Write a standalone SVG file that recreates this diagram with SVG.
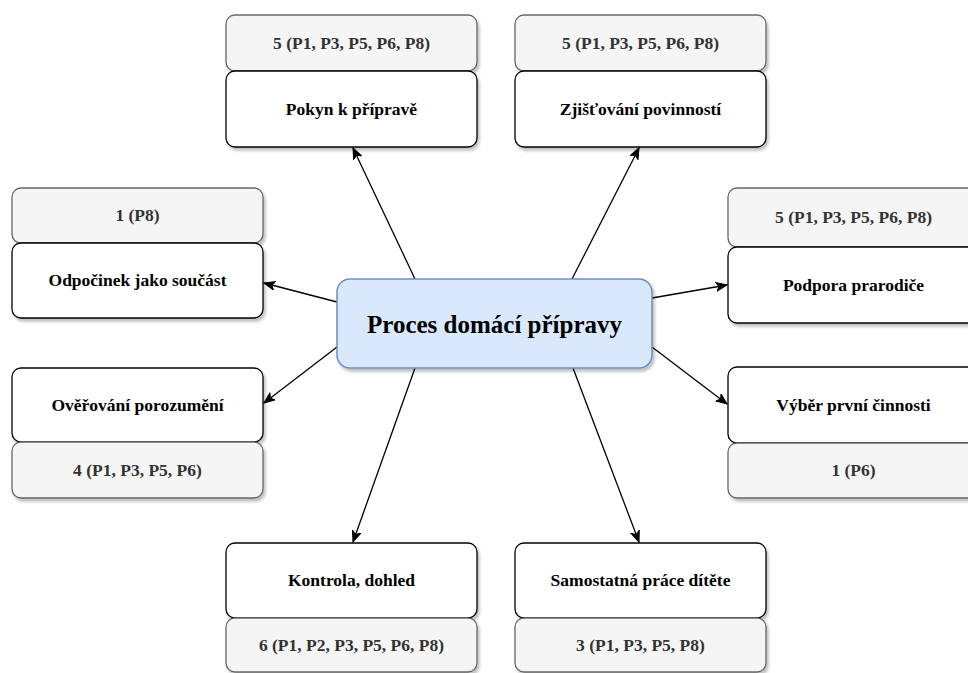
<svg xmlns="http://www.w3.org/2000/svg" width="968" height="673" viewBox="0 0 968 673">
<defs>
<filter id="sh" x="-10%" y="-10%" width="130%" height="140%">
<feDropShadow dx="2" dy="3" stdDeviation="1.5" flood-color="#000" flood-opacity="0.25"/>
</filter>
<marker id="arr" markerUnits="userSpaceOnUse" markerWidth="12" markerHeight="10" viewBox="0 0 12 10" refX="11" refY="5" orient="auto">
<path d="M0,0.5 L11,5 L0,9.5 L3,5 Z" fill="#000" stroke="#000" stroke-width="1"/>
</marker>
</defs>
<style>
.w{fill:#ffffff;stroke:#000000;stroke-width:1.3;filter:url(#sh)}
.g{fill:#f5f5f5;stroke:#666666;stroke-width:1.3;filter:url(#sh)}
.c{fill:#dae8fc;stroke:#6c8ebf;stroke-width:1.5;filter:url(#sh)}
.tw{font-family:"Liberation Serif","Times New Roman",serif;font-weight:bold;font-size:17.5px;fill:#000;text-anchor:middle}
.tg{font-family:"Liberation Serif","Times New Roman",serif;font-weight:bold;font-size:17.5px;fill:#333333;text-anchor:middle}
.tc{font-family:"Liberation Serif","Times New Roman",serif;font-weight:bold;font-size:25px;fill:#000;text-anchor:middle}
.e{fill:none;stroke:#000;stroke-width:1.3;marker-end:url(#arr)}
</style>
<g id="connectors">
<line class="e" x1="415" y1="279" x2="353" y2="148"/>
<line class="e" x1="572" y1="279" x2="639" y2="148"/>
<line class="e" x1="652" y1="298" x2="727" y2="285"/>
<line class="e" x1="652" y1="347" x2="727" y2="404"/>
<line class="e" x1="573" y1="368" x2="639" y2="542"/>
<line class="e" x1="415" y1="368" x2="353" y2="542"/>
<line class="e" x1="337" y1="347" x2="264" y2="403"/>
<line class="e" x1="337" y1="302" x2="264" y2="283"/>
</g>
<g id="n-pokyn">
<rect class="g" x="226" y="15" width="251" height="56" rx="9"/>
<text class="tg" x="351.5" y="49">5 (P1, P3, P5, P6, P8)</text>
<rect class="w" x="226" y="71" width="251" height="76" rx="9"/>
<text class="tw" x="351.5" y="115">Pokyn k přípravě</text>
</g>
<g id="n-zjistovani">
<rect class="g" x="515" y="15" width="251" height="56" rx="9"/>
<text class="tg" x="640.5" y="49">5 (P1, P3, P5, P6, P8)</text>
<rect class="w" x="515" y="71" width="251" height="76" rx="9"/>
<text class="tw" x="640.5" y="115">Zjišťování povinností</text>
</g>
<g id="n-odpocinek">
<rect class="g" x="12" y="188" width="251" height="55" rx="9"/>
<text class="tg" x="137.5" y="221">1 (P8)</text>
<rect class="w" x="12" y="243" width="251" height="75" rx="9"/>
<text class="tw" x="137.5" y="286">Odpočinek jako součást</text>
</g>
<g id="n-podpora">
<rect class="g" x="728" y="188" width="251" height="59" rx="9"/>
<text class="tg" x="853.5" y="223">5 (P1, P3, P5, P6, P8)</text>
<rect class="w" x="728" y="247" width="251" height="76" rx="9"/>
<text class="tw" x="853.5" y="291">Podpora prarodiče</text>
</g>
<g id="n-overovani">
<rect class="w" x="12" y="368" width="251" height="74" rx="9"/>
<text class="tw" x="137.5" y="411">Ověřování porozumění</text>
<rect class="g" x="12" y="442" width="251" height="56" rx="9"/>
<text class="tg" x="137.5" y="476">4 (P1, P3, P5, P6)</text>
</g>
<g id="n-vyber">
<rect class="w" x="728" y="367" width="251" height="76" rx="9"/>
<text class="tw" x="853.5" y="411">Výběr první činnosti</text>
<rect class="g" x="728" y="443" width="251" height="55" rx="9"/>
<text class="tg" x="853.5" y="476">1 (P6)</text>
</g>
<g id="n-kontrola">
<rect class="w" x="226" y="543" width="251" height="75" rx="9"/>
<text class="tw" x="351.5" y="586">Kontrola, dohled</text>
<rect class="g" x="226" y="618" width="251" height="54" rx="9"/>
<text class="tg" x="351.5" y="651">6 (P1, P2, P3, P5, P6, P8)</text>
</g>
<g id="n-samostatna">
<rect class="w" x="515" y="543" width="251" height="75" rx="9"/>
<text class="tw" x="640.5" y="586">Samostatná práce dítěte</text>
<rect class="g" x="515" y="618" width="251" height="54" rx="9"/>
<text class="tg" x="640.5" y="651">3 (P1, P3, P5, P8)</text>
</g>
<g id="n-center">
<rect class="c" x="337" y="279" width="315" height="89" rx="13"/>
<text class="tc" x="494.5" y="333">Proces domácí přípravy</text>
</g>
</svg>
